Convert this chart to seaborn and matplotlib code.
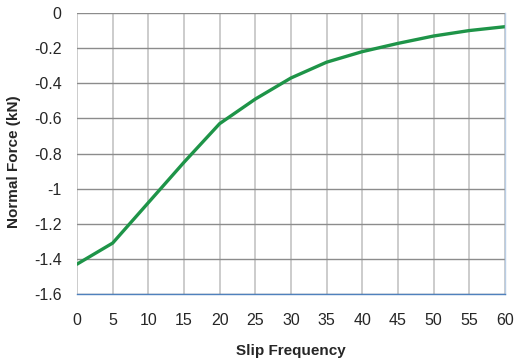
import matplotlib
matplotlib.use("Agg")
import matplotlib.pyplot as plt
import seaborn as sns
import pandas as pd

slip_frequency = [0, 5, 10, 15, 20, 25, 30, 35, 40, 45, 50, 55, 60]
normal_force = [-1.43, -1.31, -1.08, -0.85, -0.63, -0.49, -0.37, -0.28, -0.22, -0.173, -0.131, -0.10, -0.078]
y_ticks = [0, -0.2, -0.4, -0.6, -0.8, -1, -1.2, -1.4, -1.6]
y_tick_labels = ["0", "-0.2", "-0.4", "-0.6", "-0.8", "-1", "-1.2", "-1.4", "-1.6"]

df = pd.DataFrame({"Slip Frequency": slip_frequency, "Normal Force (kN)": normal_force})

sns.set_style("white")
plt.rcParams["font.family"] = ["Liberation Sans", "DejaVu Sans"]

fig = plt.figure(figsize=(5.15, 3.6), dpi=100)
ax = fig.add_axes([0.1495, 0.1833, 0.831, 0.7806])

sns.lineplot(data=df, x="Slip Frequency", y="Normal Force (kN)", ax=ax,
             color="#1e9448", linewidth=2.4)

ax.set_xlim(0, 60)
ax.set_ylim(-1.6, 0)
ax.set_xticks(slip_frequency)
ax.set_yticks(y_ticks)
ax.set_yticklabels(y_tick_labels)

ax.grid(axis="y", color="#8c8c8c", linewidth=1.0)
ax.grid(axis="x", color="#c8c8c8", linewidth=1.3)
ax.set_axisbelow(True)

for side in ["top", "left"]:
    ax.spines[side].set_visible(False)
ax.spines["bottom"].set_color("#4f81bd")
ax.spines["bottom"].set_linewidth(1.0)
ax.spines["right"].set_color("#b9cde5")
ax.spines["right"].set_linewidth(1.0)

ax.tick_params(axis="y", length=5, color="#8c8c8c", width=1.0, pad=6, labelsize=11.5)
ax.tick_params(axis="x", length=0, pad=14, labelsize=11.5)

ax.set_xlabel("Slip Frequency", fontsize=11, fontweight="bold", labelpad=11)
ax.set_ylabel("Normal Force (kN)", fontsize=11, fontweight="bold")
ax.yaxis.set_label_coords(-0.13, 0.47)

fig.savefig("out.png", dpi=100)
plt.close(fig)
